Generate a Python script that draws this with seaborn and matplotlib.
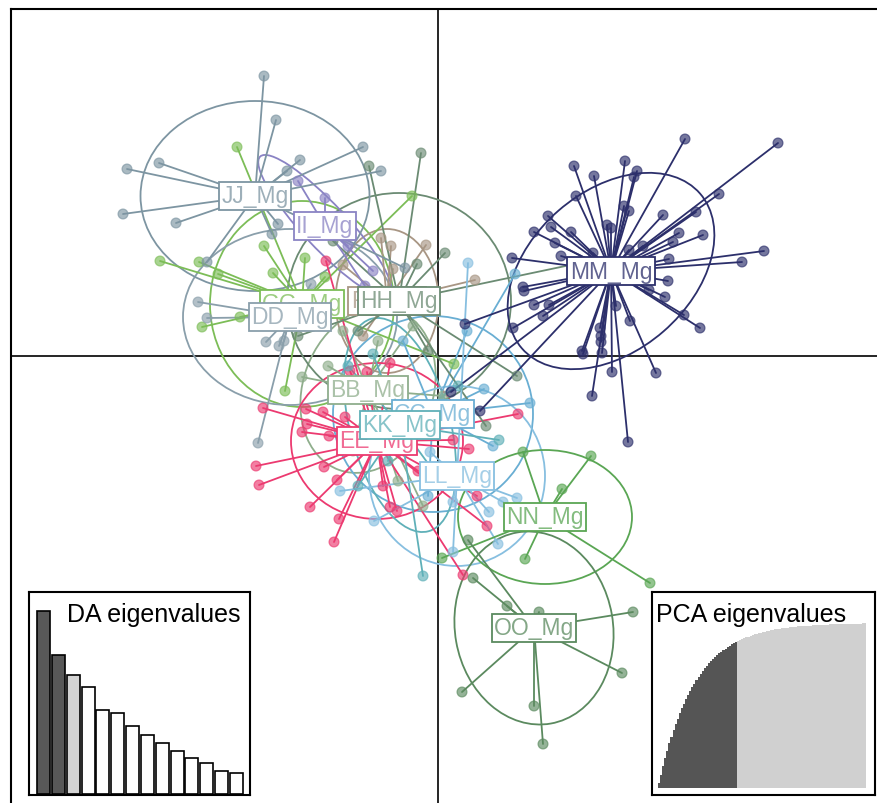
import numpy as np
import pandas as pd
import matplotlib
matplotlib.use('Agg')
import matplotlib.pyplot as plt
from matplotlib.patches import Ellipse
import seaborn as sns

#%%
'''DATA'''
# group order = drawing order of labels
groups = ['GG', 'BB', 'CC', 'DD', 'EE', 'FF', 'HH', 'II', 'JJ', 'KK', 'LL', 'MM', 'NN', 'OO']
colors = ['#7cbd57', '#8fae8c', '#69aed3', '#8a9fab', '#ec3a70', '#a89684', '#6b8b73',
          '#8a83c4', '#7d95a2', '#5fb0b8', '#87bfe0', '#2c2f6b', '#5aa654', '#5b8a5f']

# group means (LD1, LD2)
cent_x = [-13.6, -7.0, -0.5, -14.8, -6.1, -5.1, -3.9, -11.3, -18.3, -3.8, 1.9, 17.3, 10.7, 9.6]
cent_y = [5.2, -3.4, -5.8, 3.9, -8.5, 5.5, 5.5, 13.0, 16.0, -6.9, -12.0, 8.5, -16.1, -27.2]

# ellipse sizes (width, height, angle)
ell_w = [18.4, 13.0, 20.0, 21.4, 17.2, 10.3, 22.4, 19.0, 22.9, 10.0, 17.6, 23.6, 17.4, 15.8]
ell_h = [20.6, 17.0, 19.6, 17.6, 15.6, 14.4, 21.6, 4.4, 19.0, 22.0, 18.0, 16.0, 13.4, 19.4]
ell_a = [0, -20, 0, 0, 0, 0, 0, -47, 0, 15, 0, 41, 0, 10]

# individual scores per group
pts_GG = [(-20.1, 20.9), (-27.8, 9.5), (-23.9, 9.4), (-22.0, 8.2), (-19.8, 3.9), (-23.6, 2.9),
          (-17.4, 11.0), (-13.3, 9.8), (-16.5, 8.3), (-11.3, 7.9), (-2.6, 16.0), (-15.3, -3.5),
          (1.6, -0.8)]
pts_BB = [(-13.6, -2.1), (-9.5, 2.5), (-2.5, 3.0), (-8.5, -9.5), (-4.0, -12.5), (0.5, -4.0),
          (-11.0, -1.0), (-6.0, 1.5), (-1.5, -15.0)]
pts_CC = [(2.9, 2.5), (4.6, -3.3), (9.2, -4.7), (7.7, 8.2), (-3.5, 1.5), (-1.0, -14.0),
          (5.5, -9.0), (-6.0, -3.0)]
pts_DD = [(-24.0, 5.4), (-23.1, 3.8), (-17.2, 1.4), (-15.9, 1.0), (-15.4, 1.5), (-18.0, -8.7),
          (-12.7, 7.2)]
pts_EE = [(-17.5, -5.2), (-13.2, -5.3), (-13.1, -6.8), (-13.6, -7.6), (-10.9, -8.0), (-18.2, -11.0),
          (-17.9, -12.9), (-11.4, -11.1), (-10.1, -12.4), (-8.8, -1.5), (-7.1, -1.6), (-4.8, -0.7),
          (-11.5, -5.6), (-9.3, -6.1), (-12.8, -15.1), (-9.9, -16.3), (-10.4, -18.6), (-4.8, -15.1),
          (-4.1, -15.5), (8.0, -5.8), (1.5, -8.4), (3.1, -9.3), (3.9, -14.0), (2.5, -21.9),
          (4.9, -17.0), (-11.2, 9.5), (-5.5, -13.0), (-2.0, -11.5)]
pts_FF = [(-5.7, 11.8), (-4.7, 11.0), (-1.2, 11.1), (-9.5, 9.1), (3.7, 7.6), (-4.5, 8.7), (-7.5, 2.0)]
pts_HH = [(-6.9, 19.0), (-1.7, 20.3), (-2.1, 9.2), (13.7, 9.2), (0.7, 10.3), (7.9, -2.0),
          (4.8, -7.0), (-14.0, 2.0), (-8.0, 2.5), (-1.0, 0.5), (-10.5, 11.5)]
pts_II = [(-11.3, 15.8), (-6.5, 8.5), (-7.3, 7.0), (-14.0, 17.5), (-9.0, 11.0)]
pts_JJ = [(-17.4, 28.0), (-16.2, 23.6), (-31.1, 18.7), (-27.9, 19.3), (-31.5, 14.2), (-26.2, 13.3),
          (-7.5, 20.9), (-5.7, 18.5), (-13.8, 19.6), (-15.1, 18.5), (-16.0, 13.2), (-16.6, 12.2),
          (-23.1, 9.4), (-3.3, 8.8)]
pts_KK = [(-1.5, -22.0), (6.1, -8.4), (-9.0, -1.0), (-5.0, -10.5), (2.0, -3.0), (-6.5, 0.2),
          (0.5, -12.8), (-8.0, -13.0)]
pts_LL = [(-9.8, -13.5), (-6.4, -16.5), (7.9, -14.2), (5.1, -15.6), (6.5, -14.6), (6.0, -18.8),
          (1.5, -19.6), (-0.8, -9.6), (1.5, -14.6), (3.0, 9.3)]
pts_MM = [(24.7, 21.7), (34.0, 21.3), (13.6, 19.0), (15.6, 18.0), (18.7, 19.5), (19.9, 18.5),
          (19.6, 17.9), (13.8, 16.0), (28.1, 16.2), (18.6, 15.0), (19.1, 14.5), (22.5, 14.1),
          (25.8, 14.4), (11.0, 14.0), (11.3, 12.9), (9.6, 12.4), (13.3, 12.4), (16.9, 13.1),
          (17.3, 12.8), (24.1, 12.3), (26.5, 12.1), (11.7, 11.3), (23.5, 11.4), (20.5, 11.0),
          (19.1, 10.6), (15.5, 10.3), (12.3, 10.0), (7.4, 9.8), (23.1, 9.7), (32.6, 10.5),
          (30.4, 9.4), (8.5, 6.9), (8.6, 6.5), (23.0, 7.5), (21.1, 6.6), (22.7, 5.9), (9.6, 5.1),
          (11.1, 5.1), (10.5, 4.0), (17.8, 5.0), (19.2, 3.5), (24.6, 4.1), (26.2, 2.8), (7.5, 2.8),
          (16.2, 2.8), (16.3, 2.0), (16.3, 1.4), (14.4, 0.5), (14.5, 0.2), (16.4, 0.3), (17.4, -1.6),
          (21.8, -1.7), (15.4, -4.0), (19.0, -8.6), (2.7, 3.2), (1.3, -3.6), (4.2, -5.5)]
pts_NN = [(8.5, -9.6), (15.3, -10.0), (12.4, -13.3), (21.2, -22.7), (8.7, -20.3), (0.4, -20.2)]
pts_OO = [(3.0, -18.4), (3.5, -22.2), (6.9, -25.0), (10.1, -25.6), (19.5, -25.6), (18.4, -31.7),
          (2.4, -33.6), (9.6, -35.0), (10.5, -38.8)]

# DA eigenvalues
da_eig = [54.8, 41.6, 35.5, 32.0, 25.2, 24.3, 20.4, 17.8, 15.2, 12.8, 10.9, 9.4, 7.0, 6.4]
n_da_kept = 2

# PCA eigenvalues (cumulative % variance)
pca_cum = [2.8, 8.2, 13.4, 18.2, 22.7, 27.1, 31.1, 34.9, 38.6, 42.0,
           45.2, 48.3, 51.2, 53.9, 56.4, 58.9, 61.2, 63.3, 65.4, 67.3,
           69.1, 70.9, 72.5, 74.0, 75.5, 76.8, 78.1, 79.3, 80.5, 81.6,
           82.6, 83.6, 84.5, 85.4, 86.2, 87.0, 87.7, 88.4, 89.0, 89.6,
           90.2, 90.8, 91.3, 91.7, 92.2, 92.6, 93.1, 93.4, 93.8, 94.2,
           94.5, 94.8, 95.1, 95.4, 95.6, 95.9, 96.1, 96.3, 96.5, 96.7,
           96.9, 97.1, 97.2, 97.4, 97.5, 97.7, 97.8, 97.9, 98.0, 98.1,
           98.2, 98.3, 98.4, 98.5, 98.6, 98.7, 98.8, 98.8, 98.9, 99.0,
           99.0, 99.1, 99.2, 99.2, 99.3, 99.3, 99.4, 99.4, 99.5, 99.5,
           99.5, 99.6, 99.6, 99.6, 99.7, 99.7, 99.7, 99.7, 99.8, 99.8]
n_pca_kept = 38

pts = {'GG': pts_GG, 'BB': pts_BB, 'CC': pts_CC, 'DD': pts_DD, 'EE': pts_EE, 'FF': pts_FF,
       'HH': pts_HH, 'II': pts_II, 'JJ': pts_JJ, 'KK': pts_KK, 'LL': pts_LL, 'MM': pts_MM,
       'NN': pts_NN, 'OO': pts_OO}

rows = []
for g in groups:
    for (x, y) in pts[g]:
        rows.append({'grp': g, 'LD1': x, 'LD2': y})
scores = pd.DataFrame(rows)

#%%
'''PLOT'''
sns.set_style('white')
plt.rcParams['font.family'] = ['Liberation Sans', 'DejaVu Sans']

fig = plt.figure(figsize=(8.78, 8.04), dpi=100)
ax = fig.add_axes([11/878, -10/804, 877/878, 1.0])

# ellipses
for i, g in enumerate(groups):
    ax.add_patch(Ellipse((cent_x[i], cent_y[i]), ell_w[i], ell_h[i], angle=ell_a[i],
                         fill=False, ec=colors[i], lw=1.3, zorder=2))

# stars
for i, g in enumerate(groups):
    sub = scores[scores.grp == g]
    for x, y in zip(sub.LD1, sub.LD2):
        ax.plot([cent_x[i], x], [cent_y[i], y], color=colors[i], lw=1.3, zorder=3)

# points
sns.scatterplot(data=scores, x='LD1', y='LD2', hue='grp', palette=dict(zip(groups, colors)),
                s=50, alpha=0.65, edgecolor=scores.grp.map(dict(zip(groups, colors))),
                linewidth=0.9, legend=False, ax=ax, zorder=4)

ax.axhline(0, color='black', lw=1.2, zorder=1)
ax.axvline(0, color='black', lw=1.2, zorder=1)

# labels
for i, g in enumerate(groups):
    ax.text(cent_x[i], cent_y[i], g + '_Mg', fontsize=16.5, color=colors[i], alpha=0.75,
            ha='center', va='center', zorder=6,
            bbox=dict(boxstyle='square,pad=0.1', fc='white', ec=colors[i], lw=1.3))

ax.set_xlim(-42.7, 45.0)
ax.set_ylim(-45.7, 34.7)
ax.set_xticks([])
ax.set_yticks([])
ax.set_xlabel('')
ax.set_ylabel('')
for s in ax.spines.values():
    s.set_linewidth(1.5)
    s.set_color('black')

### DA eigenvalues inset
ax_da = fig.add_axes([29/878, 8/804, 221/878, 203/804])
da_idx = list(range(len(da_eig)))
da_cols = ['#585858'] * n_da_kept + ['#d3d3d3'] + ['white'] * (len(da_eig) - n_da_kept - 1)
sns.barplot(x=da_idx, y=da_eig, hue=da_idx, palette=da_cols, width=0.88, edgecolor='black',
            linewidth=1.2, legend=False, ax=ax_da, saturation=1)
ax_da.set_xlim(-0.98, 13.91)
ax_da.set_ylim(-0.3, 60.5)
ax_da.set_xticks([])
ax_da.set_yticks([])
ax_da.set_xlabel('')
ax_da.set_ylabel('')
ax_da.text(0.955, 0.95, 'DA eigenvalues', transform=ax_da.transAxes, ha='right', va='top',
           fontsize=18, color='black')
for s in ax_da.spines.values():
    s.set_linewidth(1.5)
    s.set_color('black')

### PCA eigenvalues inset
ax_pca = fig.add_axes([652/878, 8/804, 223/878, 203/804])
pca_idx = list(range(len(pca_cum)))
pca_cols = ['#555555'] * n_pca_kept + ['#d0d0d0'] * (len(pca_cum) - n_pca_kept)
sns.barplot(x=pca_idx, y=pca_cum, hue=pca_idx, palette=pca_cols, width=1.0, linewidth=0,
            legend=False, ax=ax_pca, saturation=1)
ax_pca.set_xlim(-3.38, 103.83)
ax_pca.set_ylim(-4.2, 118.8)
ax_pca.set_xticks([])
ax_pca.set_yticks([])
ax_pca.set_xlabel('')
ax_pca.set_ylabel('')
ax_pca.text(0.018, 0.95, 'PCA eigenvalues', transform=ax_pca.transAxes, ha='left', va='top',
            fontsize=18, color='black')
for s in ax_pca.spines.values():
    s.set_linewidth(1.5)
    s.set_color('black')

fig.savefig('out.png', dpi=100)
